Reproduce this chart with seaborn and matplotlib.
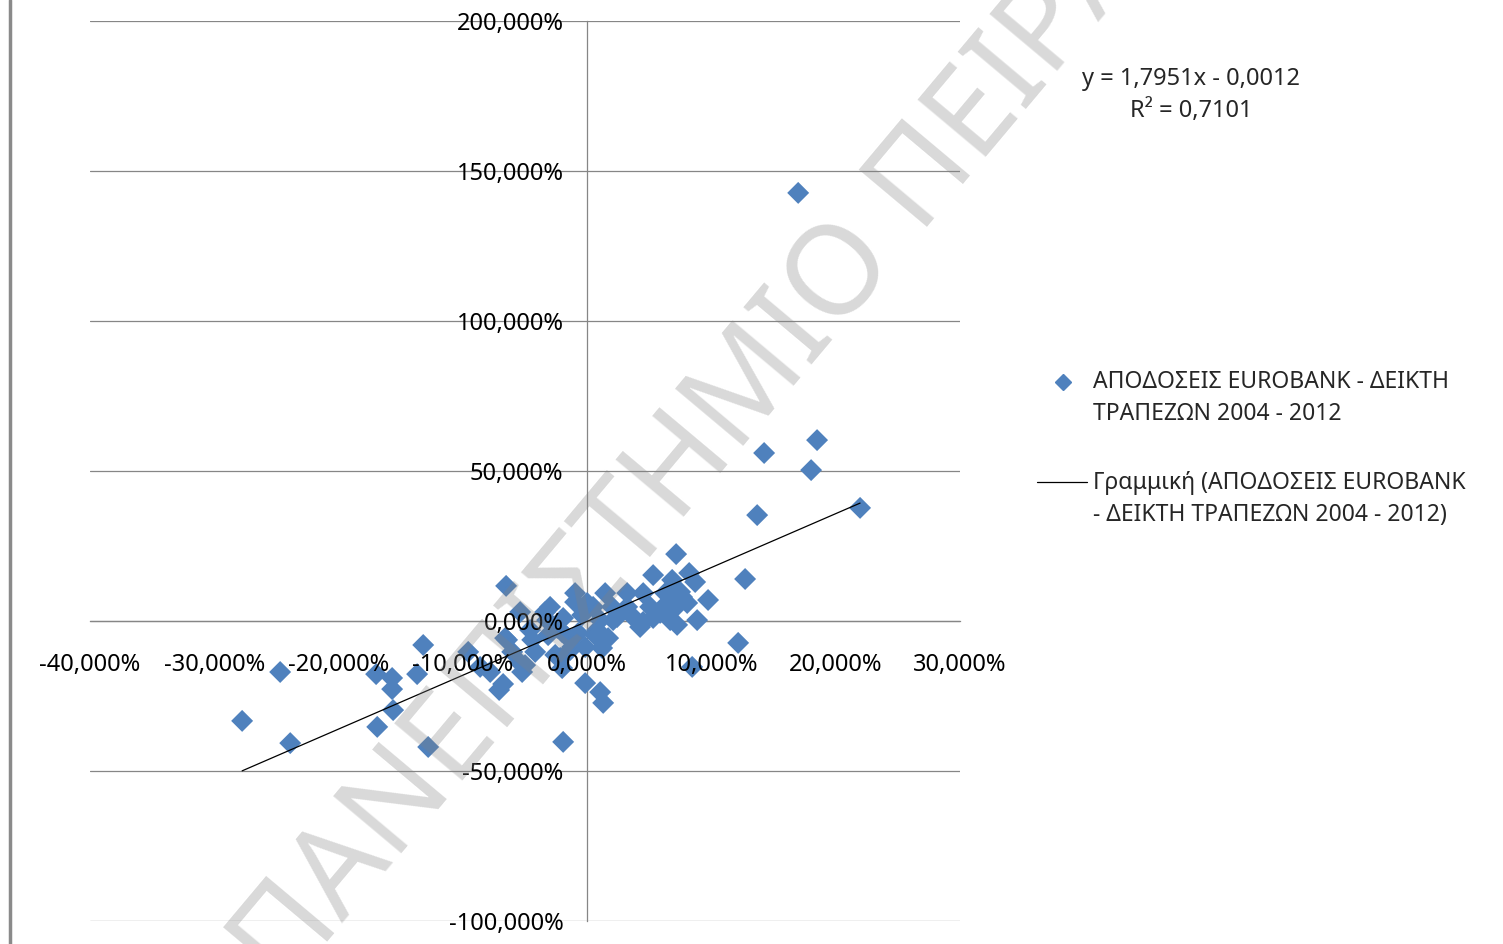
import numpy as np
import matplotlib
matplotlib.use("Agg")
import matplotlib.pyplot as plt
from matplotlib.lines import Line2D
from matplotlib.ticker import FuncFormatter, FixedLocator
import seaborn as sns

# Monthly returns: banking-sector index (x) versus Eurobank (y), decimal form
bank_index_return = [
    0.1698, 0.1424, 0.1850, 0.1802, 0.1368, 0.2196, 0.1271, 0.1215, 0.0716, 0.0531,
    0.0821, 0.0973, 0.0885, 0.0845, -0.2776, -0.2389, -0.2470, -0.1689, -0.1698, -0.1569,
    -0.1569, -0.1561, -0.1368, -0.1319, -0.1279, -0.0193, -0.0652, -0.0957, -0.0861, -0.0780,
    -0.0644, -0.0676, -0.0708, -0.0539, -0.0523, -0.0016, 0.0105, 0.0129, -0.0097, -0.0097,
    0.0145, 0.0048, 0.0201, -0.0539, -0.0338, -0.0193, -0.0040, -0.0660, -0.0459, -0.0314,
    -0.0201, -0.0072, 0.0064, 0.0169, -0.0603, -0.0418, -0.0257, -0.0121, -0.0016, 0.0121,
    -0.0499, -0.0201, 0.0322, 0.0451, 0.0628, 0.0748, 0.0805, 0.0684, 0.0322, 0.0507,
    0.0692, 0.0209, 0.0370, 0.0531, 0.0668, 0.0451, 0.0724, 0.0105, 0.0080, 0.0587,
    0.0644, 0.0764, -0.0241, -0.0322, -0.0442, -0.0161, -0.0137, 0.0426, 0.0241, -0.0217,
    0.0869, -0.0298, 0.0000,
]
eurobank_return = [
    1.427, 0.560, 0.603, 0.503, 0.353, 0.377, 0.140, -0.073, 0.223, 0.153,
    0.160, 0.070, 0.003, -0.153, -0.333, -0.407, -0.170, -0.353, -0.177, -0.190,
    -0.227, -0.297, -0.177, -0.080, -0.420, -0.403, 0.117, -0.103, -0.153, -0.170,
    -0.063, -0.210, -0.230, -0.140, -0.170, -0.207, -0.237, -0.273, 0.093, 0.063,
    0.093, 0.047, 0.047, 0.030, 0.030, 0.010, 0.020, -0.057, -0.030, -0.047,
    -0.037, -0.040, -0.047, -0.057, -0.103, -0.103, -0.113, -0.087, -0.087, -0.090,
    -0.147, -0.157, 0.093, 0.093, 0.093, 0.097, 0.060, 0.137, 0.047, 0.047,
    0.037, 0.003, 0.013, 0.010, 0.003, -0.003, -0.013, 0.003, -0.030, 0.027,
    0.060, 0.080, -0.023, 0.003, -0.063, -0.053, -0.097, -0.020, 0.013, -0.123,
    0.130, 0.047, 0.060,
]

# Linear trend line reported with the chart
trend_slope = 1.7951
trend_intercept = -0.0012
trend_r2 = 0.7101

x_ticks = [-0.4, -0.3, -0.2, -0.1, 0.0, 0.1, 0.2, 0.3]
y_ticks = [-1.0, -0.5, 0.0, 0.5, 1.0, 1.5, 2.0]

series_label = ["ΑΠΟΔΟΣΕΙΣ EUROBANK - ΔΕΙΚΤΗ", "ΤΡΑΠΕΖΩΝ 2004 - 2012"]
trend_label = ["Γραμμική (ΑΠΟΔΟΣΕΙΣ EUROBANK", "- ΔΕΙΚΤΗ ΤΡΑΠΕΖΩΝ 2004 - 2012)"]
equation_text = "y = 1,7951x - 0,0012"
r2_text = "R² = 0,7101"
watermark = "ΠΑΝΕΠΙΣΤΗΜΙΟ ΠΕΙΡΑΙΩΣ"

sns.set_theme(style="white")
plt.rcParams["font.family"] = ["Noto Sans", "DejaVu Sans"]

W, H = 1503, 944
fig = plt.figure(figsize=(W / 100, H / 100), dpi=100)
fig.patch.set_facecolor("white")


def fx(px):
    return px / W


def fy(py):
    return 1 - py / H


ax = fig.add_axes([fx(90), 1 - 921 / H, 870 / W, 900 / H])
ax.set_facecolor("white")
ax.set_xlim(-0.4, 0.3)
ax.set_ylim(-1.0, 2.0)

grid_color = "#868686"
for yv in y_ticks:
    ax.axhline(yv, color=grid_color, lw=0.9, zorder=0.3)

sns.scatterplot(x=bank_index_return, y=eurobank_return, marker="D", s=125,
                color="#4F81BD", edgecolor="none", linewidth=0, zorder=2,
                legend=False, ax=ax)

xs = np.array([min(bank_index_return), max(bank_index_return)])
sns.lineplot(x=xs, y=trend_slope * xs + trend_intercept, color="black",
             lw=0.9, zorder=3, ax=ax)


def pct(v, pos=None):
    s = f"{v * 100:.3f}%"
    if s.startswith("-0.000"):
        s = s[1:]
    return s.replace(".", ",")


ax.xaxis.set_major_locator(FixedLocator(x_ticks))
ax.yaxis.set_major_locator(FixedLocator(y_ticks))
ax.xaxis.set_major_formatter(FuncFormatter(pct))
ax.yaxis.set_major_formatter(FuncFormatter(pct))

for side in ["top", "right"]:
    ax.spines[side].set_visible(False)
ax.spines["left"].set_position(("data", 0))
ax.spines["bottom"].set_position(("data", 0))
for side in ["left", "bottom"]:
    ax.spines[side].set_color(grid_color)
    ax.spines[side].set_linewidth(0.9)
    ax.spines[side].set_zorder(0.4)

ax.set_axisbelow(False)
ax.tick_params(axis="x", direction="out", length=5, width=0.9, color=grid_color,
               labelsize=17, pad=18, labelcolor="black")
ax.tick_params(axis="y", direction="out", length=5, width=0.9, color=grid_color,
               labelsize=17, pad=12, labelcolor="black")
ax.set_xlabel("")
ax.set_ylabel("")

# Trend equation
fig.text(fx(1191), fy(79), equation_text, ha="center", va="center", fontsize=17)
fig.text(fx(1191), fy(111), r2_text, ha="center", va="center", fontsize=17)

# Legend entries
fig.add_artist(Line2D([fx(1063)], [fy(382)], marker="D", ms=8, color="#4F81BD",
                      linestyle="none", transform=fig.transFigure))
fig.text(fx(1093), fy(382), series_label[0], ha="left", va="center", fontsize=16.5)
fig.text(fx(1093), fy(414), series_label[1], ha="left", va="center", fontsize=16.5)
fig.add_artist(Line2D([fx(1037), fx(1087)], [fy(482), fy(482)], color="black",
                      lw=0.9, transform=fig.transFigure))
fig.text(fx(1093), fy(483), trend_label[0], ha="left", va="center", fontsize=16.5)
fig.text(fx(1093), fy(515), trend_label[1], ha="left", va="center", fontsize=16.5)

# Page border on the left edge
fig.add_artist(Line2D([fx(10), fx(10)], [0, 1], color="#8a8a8a", lw=2.5,
                      transform=fig.transFigure))

# Diagonal watermark
fig.text(fx(758), fy(378), watermark, rotation=50, rotation_mode="anchor",
         ha="center", va="center", fontsize=90, color="#808080", alpha=0.3,
         zorder=10)

fig.savefig("out.png", dpi=100, facecolor="white")
